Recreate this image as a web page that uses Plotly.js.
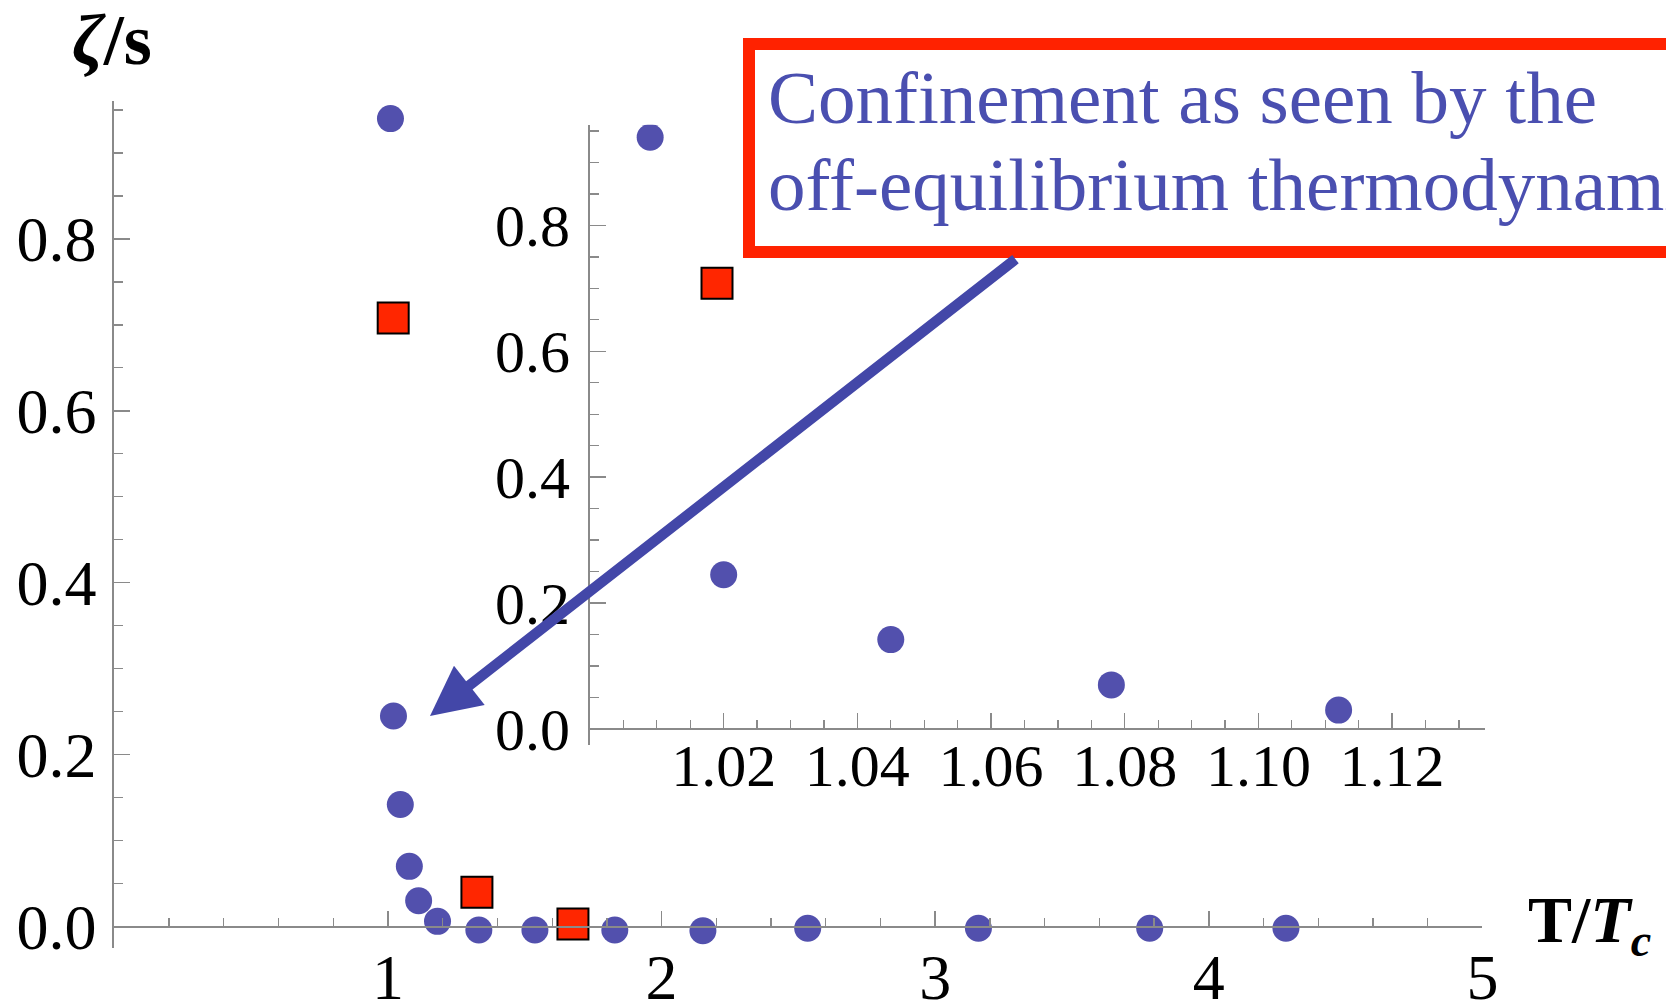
<!DOCTYPE html>
<html>
<head>
<meta charset="utf-8">
<script src="https://cdn.plot.ly/plotly-3.0.1.min.js"></script>
<style>html,body{margin:0;padding:0;background:#fff;}#chart{width:1666px;height:1003px;}</style>
</head>
<body>
<div id="chart"></div>
<script>
// ---- data ----
const T_circles = [1.009, 1.020, 1.045, 1.078, 1.112, 1.181, 1.332, 1.537, 1.829, 2.151, 2.534, 3.158, 3.784, 4.282];
const zeta_circles = [0.940, 0.245, 0.142, 0.070, 0.030, 0.006, -0.004, -0.004, -0.004, -0.005, -0.002, -0.002, -0.002, -0.002];
const T_squares = [1.019, 1.325, 1.676];
const zeta_squares = [0.708, 0.040, 0.003];

const mainXTicks = [1, 2, 3, 4, 5];
const mainYTicks = [0.0, 0.2, 0.4, 0.6, 0.8];
const insetXTicks = [1.02, 1.04, 1.06, 1.08, 1.10, 1.12];
const insetYTicks = [0.0, 0.2, 0.4, 0.6, 0.8];

const noteLines = ["Confinement as seen by the", "off-equilibrium thermodynamics"];

// ---- layout helpers ----
const W = 1666, H = 1003;
const fx = px => px / W;
const fy = py => 1 - py / H;
const SERIF = '"Liberation Serif", "Times New Roman", serif';
const AX = '#8a8a8a';

const mainYR = [-0.025, 0.96], insetYR = [-0.025, 0.96];
const mainDomY = [fy(948), fy(101.4)];
const insetDomY = [fy(744.7), fy(124.7)];
const zeroPos = (dom, r) => dom[0] + (0 - r[0]) / (r[1] - r[0]) * (dom[1] - dom[0]);

const circleMarker = {symbol: 'circle', size: 27, color: '#5250ad', line: {width: 0}};
const squareMarker = {symbol: 'square', size: 31, color: '#ff2600', line: {width: 2, color: '#000'}};

const traces = [
  {x: T_circles, y: zeta_circles, type: 'scatter', mode: 'markers', marker: circleMarker, xaxis: 'x', yaxis: 'y', cliponaxis: false},
  {x: T_squares, y: zeta_squares, type: 'scatter', mode: 'markers', marker: squareMarker, xaxis: 'x', yaxis: 'y', cliponaxis: false},
  {x: T_circles, y: zeta_circles, type: 'scatter', mode: 'markers', marker: circleMarker, xaxis: 'x2', yaxis: 'y2', cliponaxis: true},
  {x: T_squares, y: zeta_squares, type: 'scatter', mode: 'markers', marker: squareMarker, xaxis: 'x2', yaxis: 'y2', cliponaxis: true}
];

function xAxis(domain, range, tickvals, fmt, pos, fsize, minorDt, standoff) {
  return {
    domain: domain, range: range, anchor: 'free', position: pos,
    showgrid: false, zeroline: false, showline: true, linecolor: AX, linewidth: 2,
    tickmode: 'array', tickvals: tickvals, tickformat: fmt,
    ticks: 'inside', ticklen: 15, tickwidth: 1.5, tickcolor: AX,
    ticklabelstandoff: standoff,
    minor: {tickmode: 'linear', tick0: 0, dtick: minorDt, ticks: 'inside', ticklen: 8, tickwidth: 1.3, tickcolor: AX, showgrid: false},
    tickfont: {family: SERIF, size: fsize, color: '#000'}
  };
}
function yAxis(domain, range, anchor, tickvals, fsize, standoff) {
  return {
    domain: domain, range: range, anchor: anchor,
    showgrid: false, zeroline: false, showline: true, linecolor: AX, linewidth: 2,
    tickmode: 'array', tickvals: tickvals, tickformat: '.1f',
    ticks: 'inside', ticklen: 16, tickwidth: 1.5, tickcolor: AX,
    ticklabelstandoff: standoff,
    minor: {tickmode: 'linear', tick0: 0, dtick: 0.05, ticks: 'inside', ticklen: 9, tickwidth: 1.3, tickcolor: AX, showgrid: false},
    tickfont: {family: SERIF, size: fsize, color: '#000'}
  };
}

const layout = {
  width: W, height: H,
  margin: {l: 0, r: 0, t: 0, b: 0},
  paper_bgcolor: '#fff', plot_bgcolor: 'rgba(0,0,0,0)',
  showlegend: false, hovermode: false,
  xaxis: xAxis([fx(114.4), fx(1482.4)], [0, 5], mainXTicks, 'd', zeroPos(mainDomY, mainYR), 64, 0.2, -5),
  yaxis: yAxis(mainDomY, mainYR, 'x', mainYTicks, 64, 3),
  xaxis2: xAxis([fx(590), fx(1485)], [1.0, 1.1339], insetXTicks, '.2f', zeroPos(insetDomY, insetYR), 60, 0.005, -16),
  yaxis2: yAxis(insetDomY, insetYR, 'x2', insetYTicks, 60, 6),
  shapes: [
    {type: 'rect', xref: 'paper', yref: 'paper', x0: fx(749), x1: 1.3, y0: fy(252), y1: fy(44),
     line: {color: '#ff2200', width: 12}, fillcolor: '#fff', layer: 'above'}
  ],
  annotations: [
    {xref: 'x', yref: 'y', x: 1.1535, y: 0.2449, ax: 587, ay: -458, axref: 'pixel', ayref: 'pixel',
     text: '', showarrow: true, arrowhead: 2, arrowsize: 0.95, arrowwidth: 10.5, arrowcolor: '#4347a8', standoff: 0},
    {xref: 'paper', yref: 'paper', x: fx(766), y: fy(97), xanchor: 'left', yanchor: 'middle', showarrow: false,
     text: noteLines[0], font: {family: SERIF, size: 75, color: '#4a4fb0'}},
    {xref: 'paper', yref: 'paper', x: fx(766), y: fy(185), xanchor: 'left', yanchor: 'middle', showarrow: false,
     text: noteLines[1], font: {family: SERIF, size: 75, color: '#4a4fb0'}},
    {xref: 'paper', yref: 'paper', x: fx(112), y: fy(40), xanchor: 'center', yanchor: 'middle', showarrow: false,
     text: '<b><i>ζ</i>/s</b>', font: {family: SERIF, size: 72, color: '#000'}},
    {xref: 'paper', yref: 'paper', x: fx(1526), y: fy(924), xanchor: 'left', yanchor: 'middle', showarrow: false,
     text: '<b>T/<i>T</i><sub><i>c</i></sub></b>', font: {family: SERIF, size: 66, color: '#000'}}
  ]
};

Plotly.newPlot('chart', traces, layout, {displayModeBar: false, staticPlot: true});
</script>
</body>
</html>
